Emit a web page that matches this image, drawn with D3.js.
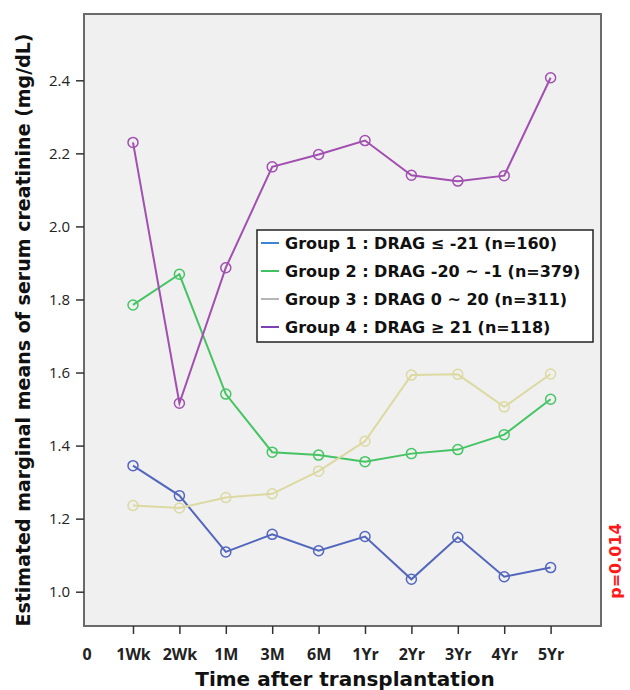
<!DOCTYPE html>
<html>
<head>
<meta charset="utf-8">
<script src="https://cdn.jsdelivr.net/npm/d3@7"></script>
<style>
  body { margin: 0; background: #fff; }
  text { font-family: "DejaVu Sans", sans-serif; }
</style>
</head>
<body>
<div id="chart"></div>
<script>
// time points on the x axis
var timeLabels = ["0", "1Wk", "2Wk", "1M", "3M", "6M", "1Yr", "2Yr", "3Yr", "4Yr", "5Yr"];
var yTicks = [1.0, 1.2, 1.4, 1.6, 1.8, 2.0, 2.2, 2.4];

// estimated means, 1Wk .. 5Yr
var group1 = [1.345, 1.263, 1.109, 1.157, 1.112, 1.151, 1.034, 1.149, 1.041, 1.066];
var group2 = [1.785, 1.869, 1.541, 1.382, 1.374, 1.356, 1.378, 1.389, 1.430, 1.527];
var group3 = [1.236, 1.229, 1.258, 1.268, 1.330, 1.412, 1.593, 1.595, 1.506, 1.596];
var group4 = [2.230, 1.516, 1.887, 2.163, 2.197, 2.235, 2.140, 2.124, 2.139, 2.407];

var legendLabels = [
  "Group 1 : DRAG \u2264 -21 (n=160)",
  "Group 2 : DRAG -20 ~ -1 (n=379)",
  "Group 3 : DRAG 0 ~ 20 (n=311)",
  "Group 4 : DRAG \u2265 21 (n=118)"
];
var lineColors = ["#5366bd", "#45c463", "#dcd9a2", "#a14fb0"];
var legendColors = ["#3b86d2", "#3fc262", "#b5b5b5", "#7d3fb3"];

var series = [group1, group2, group3, group4];

var width = 630, height = 690;
var box = {left: 84, right: 601, top: 14, bottom: 626};

var svg = d3.select("#chart")
            .append("svg")
            .attr("width", width)
            .attr("height", height);

var x = d3.scaleLinear()
          .domain([-0.056, 11.086])
          .range([box.left, box.right]);

var y = d3.scaleLinear()
          .domain([1.0, 2.4])
          .range([591.7, 80.3]);

// plot background and frame
svg.append("rect")
   .attr("x", box.left).attr("y", box.top)
   .attr("width", box.right - box.left).attr("height", box.bottom - box.top)
   .attr("fill", "#f0f0f0")
   .attr("stroke", "#6a6a6a")
   .attr("stroke-width", 2);

// y axis
var yAxis = svg.append("g")
   .attr("transform", "translate(" + box.left + ",0)")
   .call(d3.axisLeft(y).tickValues(yTicks).tickFormat(d3.format(".1f")).tickSize(8).tickPadding(6));
yAxis.select(".domain").remove();
yAxis.selectAll("line").attr("stroke", "#333").attr("stroke-width", 1.5);
yAxis.selectAll("text").attr("font-size", 15).attr("fill", "#222")
     .style("font-family", "'Open Sans', sans-serif");

// x axis
var xAxis = svg.append("g")
   .attr("transform", "translate(0," + box.bottom + ")")
   .call(d3.axisBottom(x).tickValues(d3.range(timeLabels.length))
           .tickFormat(function (i) { return timeLabels[i]; }).tickSize(8).tickPadding(15));
xAxis.select(".domain").remove();
xAxis.selectAll("line").attr("stroke", "#333").attr("stroke-width", 1.5)
     .attr("opacity", function (d) { return d === 0 ? 0 : 1; });
xAxis.selectAll("text").attr("font-size", 16).attr("font-weight", "bold").attr("fill", "#222")
     .style("font-family", "'Open Sans', sans-serif");

// axis titles
svg.append("text")
   .text("Time after transplantation")
   .attr("x", 345).attr("y", 686)
   .attr("text-anchor", "middle")
   .attr("font-size", 20).attr("font-weight", "bold").attr("fill", "#111");

svg.append("text")
   .text("Estimated marginal means of serum creatinine (mg/dL)")
   .attr("transform", "translate(30,330) rotate(-90)")
   .attr("text-anchor", "middle")
   .attr("font-size", 19).attr("font-weight", "bold").attr("fill", "#111");

svg.append("text")
   .text("p=0.014")
   .attr("transform", "translate(621,561) rotate(-90)")
   .attr("text-anchor", "middle")
   .attr("font-size", 16).attr("font-weight", "bold").attr("fill", "#ff1a1a");

// lines and points
var line = d3.line()
             .x(function (d, i) { return x(i + 1); })
             .y(function (d) { return y(d); });

series.forEach(function (s, k) {
  svg.append("path")
     .datum(s)
     .attr("d", line)
     .attr("fill", "none")
     .attr("stroke", lineColors[k])
     .attr("stroke-width", 2);
  svg.selectAll("circle.g" + k)
     .data(s)
     .enter().append("circle")
     .attr("class", "g" + k)
     .attr("cx", function (d, i) { return x(i + 1); })
     .attr("cy", function (d) { return y(d); })
     .attr("r", 5)
     .attr("fill", "none")
     .attr("stroke", lineColors[k])
     .attr("stroke-width", 1.5);
});

// legend
var lg = svg.append("g").attr("transform", "translate(257,230)");
lg.append("rect")
  .attr("width", 336).attr("height", 112)
  .attr("fill", "#fff").attr("stroke", "#222").attr("stroke-width", 1.5);
legendLabels.forEach(function (t, k) {
  var ry = 13 + k * 28;
  lg.append("line")
    .attr("x1", 4).attr("x2", 22).attr("y1", ry).attr("y2", ry)
    .attr("stroke", legendColors[k]).attr("stroke-width", 2);
  lg.append("text")
    .text(t)
    .attr("x", 28).attr("y", ry + 6)
    .attr("font-size", 16).attr("font-weight", "bold").attr("fill", "#111");
});
</script>
</body>
</html>
